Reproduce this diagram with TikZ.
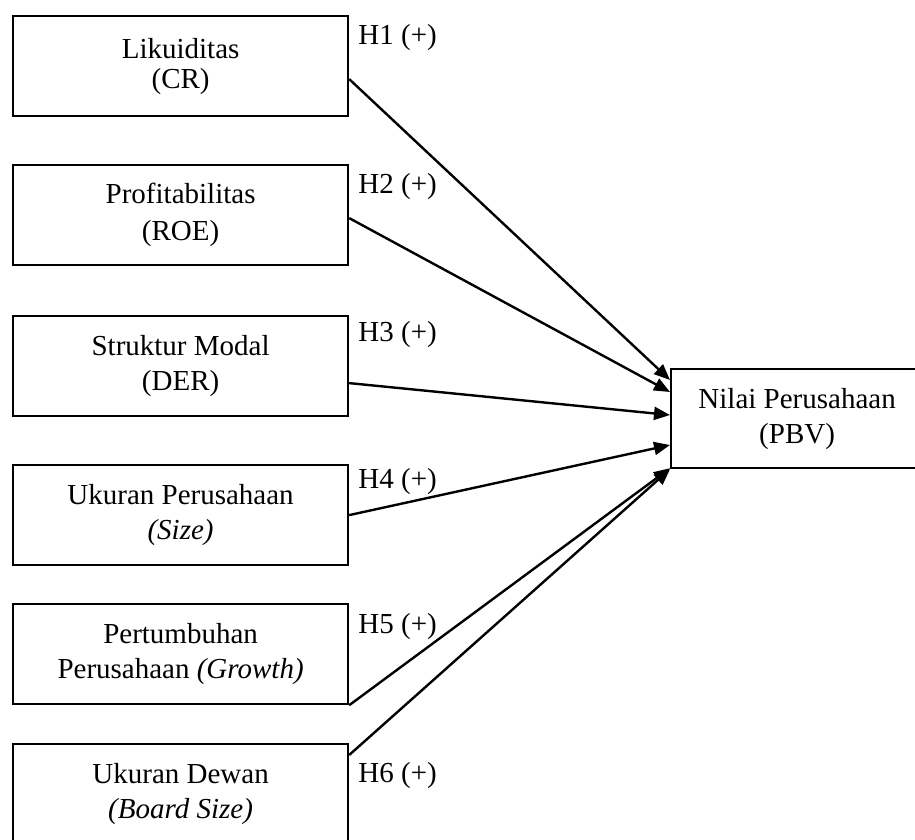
\documentclass[tikz,border=0pt]{standalone}
\usepackage{fontspec}
\setmainfont{Liberation Serif}
\usetikzlibrary{arrows.meta}
\tikzset{
  varbox/.style={draw, line width=1.1pt, minimum width=167.5pt, minimum height=50pt,
    anchor=north west, align=center, inner sep=0pt, font=\fontsize{14.5pt}{17.5pt}\selectfont},
  hyp/.style={anchor=base west, inner sep=0pt, font=\fontsize{14.5pt}{17.5pt}\selectfont},
  link/.style={line width=1.2pt, -{Triangle[length=8pt,width=6.5pt]}}
}
\begin{document}
\begin{tikzpicture}[x=0.5pt, y=-0.5pt]
  \useasboundingbox (0,0) rectangle (915,840);
  \node[varbox] (likuid) at (12,15) {Likuiditas\\[-2.5pt](CR)};
  \node[varbox] (profit) at (12,164) {Profitabilitas\\[1pt](ROE)};
  \node[varbox] (struktur) at (12,315) {Struktur Modal\\(DER)};
  \node[varbox] (ukuran) at (12,464) {Ukuran Perusahaan\\\textit{(Size)}};
  \node[varbox] (growth) at (12,603) {Pertumbuhan\\Perusahaan \textit{(Growth)}};
  \node[varbox] (dewan) at (12,743) {Ukuran Dewan\\\textit{(Board Size)}};
  \node[varbox, minimum width=126pt, minimum height=49.5pt] (nilai) at (670,368) {Nilai Perusahaan\\(PBV)};
  \node[hyp] (h1) at (358,45) {H1 (+)};
  \node[hyp] (h2) at (358,193) {H2 (+)};
  \node[hyp] (h3) at (358,341) {H3 (+)};
  \node[hyp] (h4) at (358,488) {H4 (+)};
  \node[hyp] (h5) at (358,633) {H5 (+)};
  \node[hyp] (h6) at (358,782) {H6 (+)};
  \draw[link] ([yshift=-6.5pt]likuid.east) -- ([yshift=-6pt]nilai.north west);
  \draw[link] ([yshift=-1.5pt]profit.east) -- ([yshift=-12pt]nilai.north west);
  \draw[link] ([yshift=-8.5pt]struktur.east) -- ([yshift=-23.5pt]nilai.north west);
  \draw[link] (ukuran.east) -- ([yshift=-38.5pt]nilai.north west);
  \draw[link] (growth.south east) -- ([yshift=0.5pt]nilai.south west);
  \draw[link] ([yshift=-6pt]dewan.north east) -- (nilai.south west);
\end{tikzpicture}
\end{document}
